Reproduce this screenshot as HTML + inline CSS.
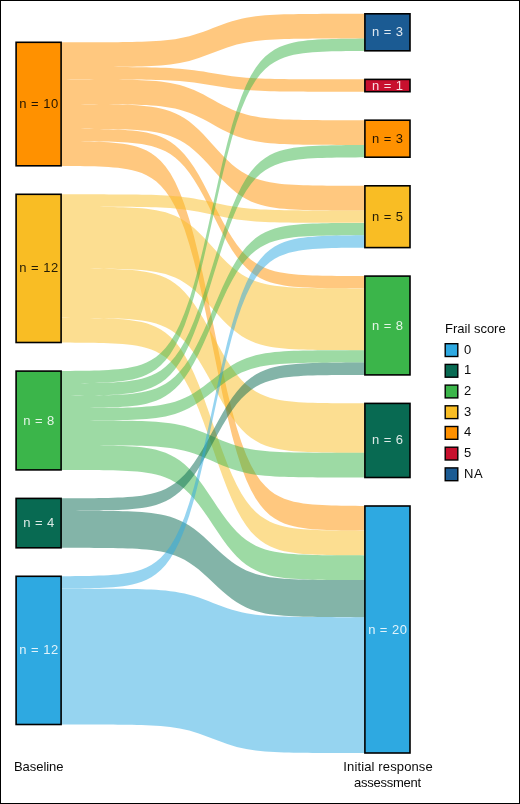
<!DOCTYPE html>
<html><head><meta charset="utf-8"><title>Frail score</title>
<style>
html,body{margin:0;padding:0;background:#fff}
body{width:520px;height:804px;overflow:hidden}
svg{display:block;will-change:transform}
text{font-family:"Liberation Sans",Arial,sans-serif;font-size:13px;word-spacing:.9px}
.n text{fill-opacity:.86}
</style></head><body>
<svg width="520" height="804" viewBox="0 0 520 804">
<rect x="0" y="0" width="520" height="804" fill="#fff"/>
<g>
<path d="M61.10,42.30 65.85,42.30 70.59,42.30 75.34,42.29 80.09,42.29 84.83,42.28 89.58,42.28 94.33,42.27 99.07,42.25 103.82,42.24 108.57,42.22 113.32,42.19 118.06,42.15 122.81,42.10 127.56,42.04 132.30,41.97 137.05,41.87 141.80,41.74 146.54,41.57 151.29,41.36 156.04,41.10 160.78,40.76 165.53,40.33 170.28,39.79 175.02,39.13 179.77,38.32 184.52,37.34 189.27,36.19 194.01,34.85 198.76,33.33 203.51,31.67 208.25,29.89 213.00,28.05 217.75,26.21 222.49,24.43 227.24,22.77 231.99,21.25 236.73,19.91 241.48,18.76 246.23,17.78 250.97,16.97 255.72,16.31 260.47,15.77 265.22,15.34 269.96,15.00 274.71,14.74 279.46,14.53 284.20,14.36 288.95,14.23 293.70,14.13 298.44,14.06 303.19,14.00 307.94,13.95 312.68,13.91 317.43,13.88 322.18,13.86 326.92,13.85 331.67,13.83 336.42,13.82 341.17,13.82 345.91,13.81 350.66,13.81 355.41,13.80 360.15,13.80 364.90,13.80 L364.90,38.50 360.15,38.50 355.41,38.50 350.66,38.51 345.91,38.51 341.17,38.52 336.42,38.52 331.67,38.53 326.92,38.55 322.18,38.56 317.43,38.58 312.68,38.61 307.94,38.65 303.19,38.70 298.44,38.76 293.70,38.83 288.95,38.93 284.20,39.06 279.46,39.23 274.71,39.44 269.96,39.70 265.22,40.04 260.47,40.47 255.72,41.01 250.97,41.67 246.23,42.48 241.48,43.46 236.73,44.61 231.99,45.95 227.24,47.47 222.49,49.13 217.75,50.91 213.00,52.75 208.25,54.59 203.51,56.37 198.76,58.03 194.01,59.55 189.27,60.89 184.52,62.04 179.77,63.02 175.02,63.83 170.28,64.49 165.53,65.03 160.78,65.46 156.04,65.80 151.29,66.06 146.54,66.27 141.80,66.44 137.05,66.57 132.30,66.67 127.56,66.74 122.81,66.80 118.06,66.85 113.32,66.89 108.57,66.92 103.82,66.94 99.07,66.95 94.33,66.97 89.58,66.98 84.83,66.98 80.09,66.99 75.34,66.99 70.59,67.00 65.85,67.00 61.10,67.00Z M61.10,67.01 65.85,67.01 70.59,67.02 75.34,67.02 80.09,67.02 84.83,67.02 89.58,67.02 94.33,67.03 99.07,67.03 103.82,67.04 108.57,67.05 113.32,67.06 118.06,67.08 122.81,67.10 127.56,67.12 132.30,67.16 137.05,67.20 141.80,67.26 146.54,67.33 151.29,67.42 156.04,67.54 160.78,67.68 165.53,67.87 170.28,68.10 175.02,68.39 179.77,68.74 184.52,69.16 189.27,69.66 194.01,70.24 198.76,70.90 203.51,71.62 208.25,72.39 213.00,73.19 217.75,73.98 222.49,74.75 227.24,75.47 231.99,76.13 236.73,76.71 241.48,77.21 246.23,77.63 250.97,77.98 255.72,78.27 260.47,78.50 265.22,78.69 269.96,78.83 274.71,78.95 279.46,79.04 284.20,79.11 288.95,79.17 293.70,79.21 298.44,79.25 303.19,79.27 307.94,79.29 312.68,79.31 317.43,79.32 322.18,79.33 326.92,79.34 331.67,79.34 336.42,79.35 341.17,79.35 345.91,79.35 350.66,79.35 355.41,79.35 360.15,79.36 364.90,79.36 L364.90,91.71 360.15,91.71 355.41,91.70 350.66,91.70 345.91,91.70 341.17,91.70 336.42,91.70 331.67,91.69 326.92,91.69 322.18,91.68 317.43,91.67 312.68,91.66 307.94,91.64 303.19,91.62 298.44,91.60 293.70,91.56 288.95,91.52 284.20,91.46 279.46,91.39 274.71,91.30 269.96,91.18 265.22,91.04 260.47,90.85 255.72,90.62 250.97,90.33 246.23,89.98 241.48,89.56 236.73,89.06 231.99,88.48 227.24,87.82 222.49,87.10 217.75,86.33 213.00,85.53 208.25,84.74 203.51,83.97 198.76,83.25 194.01,82.59 189.27,82.01 184.52,81.51 179.77,81.09 175.02,80.74 170.28,80.45 165.53,80.22 160.78,80.03 156.04,79.89 151.29,79.77 146.54,79.68 141.80,79.61 137.05,79.55 132.30,79.51 127.56,79.47 122.81,79.45 118.06,79.43 113.32,79.41 108.57,79.40 103.82,79.39 99.07,79.38 94.33,79.38 89.58,79.37 84.83,79.37 80.09,79.37 75.34,79.37 70.59,79.37 65.85,79.36 61.10,79.36Z M61.10,79.37 65.85,79.37 70.59,79.38 75.34,79.38 80.09,79.39 84.83,79.40 89.58,79.41 94.33,79.42 99.07,79.44 103.82,79.46 108.57,79.50 113.32,79.54 118.06,79.59 122.81,79.65 127.56,79.74 132.30,79.85 137.05,79.99 141.80,80.18 146.54,80.41 151.29,80.72 156.04,81.10 160.78,81.59 165.53,82.20 170.28,82.97 175.02,83.92 179.77,85.08 184.52,86.48 189.27,88.13 194.01,90.05 198.76,92.22 203.51,94.61 208.25,97.16 213.00,99.79 217.75,102.43 222.49,104.98 227.24,107.37 231.99,109.54 236.73,111.46 241.48,113.11 246.23,114.51 250.97,115.67 255.72,116.62 260.47,117.39 265.22,118.00 269.96,118.49 274.71,118.87 279.46,119.18 284.20,119.41 288.95,119.60 293.70,119.74 298.44,119.85 303.19,119.94 307.94,120.00 312.68,120.05 317.43,120.09 322.18,120.13 326.92,120.15 331.67,120.17 336.42,120.18 341.17,120.19 345.91,120.20 350.66,120.21 355.41,120.21 360.15,120.22 364.90,120.22 L364.90,144.92 360.15,144.92 355.41,144.91 350.66,144.91 345.91,144.90 341.17,144.89 336.42,144.88 331.67,144.87 326.92,144.85 322.18,144.83 317.43,144.79 312.68,144.75 307.94,144.70 303.19,144.64 298.44,144.55 293.70,144.44 288.95,144.30 284.20,144.11 279.46,143.88 274.71,143.57 269.96,143.19 265.22,142.70 260.47,142.09 255.72,141.32 250.97,140.37 246.23,139.21 241.48,137.81 236.73,136.16 231.99,134.24 227.24,132.07 222.49,129.68 217.75,127.13 213.00,124.49 208.25,121.86 203.51,119.31 198.76,116.92 194.01,114.75 189.27,112.83 184.52,111.18 179.77,109.78 175.02,108.62 170.28,107.67 165.53,106.90 160.78,106.29 156.04,105.80 151.29,105.42 146.54,105.11 141.80,104.88 137.05,104.69 132.30,104.55 127.56,104.44 122.81,104.35 118.06,104.29 113.32,104.24 108.57,104.20 103.82,104.16 99.07,104.14 94.33,104.12 89.58,104.11 84.83,104.10 80.09,104.09 75.34,104.08 70.59,104.08 65.85,104.07 61.10,104.07Z M61.10,104.08 65.85,104.09 70.59,104.09 75.34,104.10 80.09,104.12 84.83,104.13 89.58,104.16 94.33,104.18 99.07,104.22 103.82,104.27 108.57,104.33 113.32,104.41 118.06,104.51 122.81,104.65 127.56,104.82 132.30,105.04 137.05,105.33 141.80,105.70 146.54,106.17 151.29,106.77 156.04,107.54 160.78,108.52 165.53,109.74 170.28,111.28 175.02,113.18 179.77,115.50 184.52,118.30 189.27,121.61 194.01,125.45 198.76,129.79 203.51,134.56 208.25,139.66 213.00,144.93 217.75,150.20 222.49,155.30 227.24,160.07 231.99,164.41 236.73,168.25 241.48,171.56 246.23,174.36 250.97,176.68 255.72,178.58 260.47,180.12 265.22,181.34 269.96,182.32 274.71,183.09 279.46,183.69 284.20,184.16 288.95,184.53 293.70,184.82 298.44,185.04 303.19,185.21 307.94,185.35 312.68,185.45 317.43,185.53 322.18,185.59 326.92,185.64 331.67,185.68 336.42,185.70 341.17,185.73 345.91,185.74 350.66,185.76 355.41,185.77 360.15,185.77 364.90,185.78 L364.90,210.48 360.15,210.47 355.41,210.47 350.66,210.46 345.91,210.44 341.17,210.43 336.42,210.40 331.67,210.38 326.92,210.34 322.18,210.29 317.43,210.23 312.68,210.15 307.94,210.05 303.19,209.91 298.44,209.74 293.70,209.52 288.95,209.23 284.20,208.86 279.46,208.39 274.71,207.79 269.96,207.02 265.22,206.04 260.47,204.82 255.72,203.28 250.97,201.38 246.23,199.06 241.48,196.26 236.73,192.95 231.99,189.11 227.24,184.77 222.49,180.00 217.75,174.90 213.00,169.63 208.25,164.36 203.51,159.26 198.76,154.49 194.01,150.15 189.27,146.31 184.52,143.00 179.77,140.20 175.02,137.88 170.28,135.98 165.53,134.44 160.78,133.22 156.04,132.24 151.29,131.47 146.54,130.87 141.80,130.40 137.05,130.03 132.30,129.74 127.56,129.52 122.81,129.35 118.06,129.21 113.32,129.11 108.57,129.03 103.82,128.97 99.07,128.92 94.33,128.88 89.58,128.86 84.83,128.83 80.09,128.82 75.34,128.80 70.59,128.79 65.85,128.79 61.10,128.78Z M61.10,128.80 65.85,128.81 70.59,128.82 75.34,128.84 80.09,128.86 84.83,128.89 89.58,128.93 94.33,128.98 99.07,129.05 103.82,129.14 108.57,129.25 113.32,129.39 118.06,129.58 122.81,129.82 127.56,130.13 132.30,130.53 137.05,131.05 141.80,131.71 146.54,132.56 151.29,133.65 156.04,135.03 160.78,136.79 165.53,139.00 170.28,141.77 175.02,145.19 179.77,149.38 184.52,154.42 189.27,160.39 194.01,167.30 198.76,175.12 203.51,183.73 208.25,192.92 213.00,202.41 217.75,211.91 222.49,221.10 227.24,229.71 231.99,237.53 236.73,244.44 241.48,250.41 246.23,255.45 250.97,259.64 255.72,263.06 260.47,265.83 265.22,268.04 269.96,269.80 274.71,271.18 279.46,272.27 284.20,273.12 288.95,273.78 293.70,274.30 298.44,274.70 303.19,275.01 307.94,275.25 312.68,275.44 317.43,275.58 322.18,275.69 326.92,275.78 331.67,275.85 336.42,275.90 341.17,275.94 345.91,275.97 350.66,275.99 355.41,276.01 360.15,276.02 364.90,276.03 L364.90,288.38 360.15,288.37 355.41,288.36 350.66,288.34 345.91,288.32 341.17,288.29 336.42,288.25 331.67,288.20 326.92,288.13 322.18,288.04 317.43,287.93 312.68,287.79 307.94,287.60 303.19,287.36 298.44,287.05 293.70,286.65 288.95,286.13 284.20,285.47 279.46,284.62 274.71,283.53 269.96,282.15 265.22,280.39 260.47,278.18 255.72,275.41 250.97,271.99 246.23,267.80 241.48,262.76 236.73,256.79 231.99,249.88 227.24,242.06 222.49,233.45 217.75,224.26 213.00,214.76 208.25,205.27 203.51,196.08 198.76,187.47 194.01,179.65 189.27,172.74 184.52,166.77 179.77,161.73 175.02,157.54 170.28,154.12 165.53,151.35 160.78,149.14 156.04,147.38 151.29,146.00 146.54,144.91 141.80,144.06 137.05,143.40 132.30,142.88 127.56,142.48 122.81,142.17 118.06,141.93 113.32,141.74 108.57,141.60 103.82,141.49 99.07,141.40 94.33,141.33 89.58,141.28 84.83,141.24 80.09,141.21 75.34,141.19 70.59,141.17 65.85,141.16 61.10,141.15Z M61.10,141.20 65.85,141.23 70.59,141.26 75.34,141.31 80.09,141.37 84.83,141.44 89.58,141.54 94.33,141.67 99.07,141.83 103.82,142.04 108.57,142.32 113.32,142.68 118.06,143.14 122.81,143.73 127.56,144.50 132.30,145.49 137.05,146.77 141.80,148.42 146.54,150.52 151.29,153.22 156.04,156.65 160.78,161.00 165.53,166.49 170.28,173.34 175.02,181.81 179.77,192.18 184.52,204.67 189.27,219.45 194.01,236.58 198.76,255.95 203.51,277.27 208.25,300.03 213.00,323.56 217.75,347.09 222.49,369.85 227.24,391.17 231.99,410.54 236.73,427.67 241.48,442.45 246.23,454.94 250.97,465.31 255.72,473.78 260.47,480.63 265.22,486.12 269.96,490.47 274.71,493.90 279.46,496.60 284.20,498.70 288.95,500.35 293.70,501.63 298.44,502.62 303.19,503.39 307.94,503.98 312.68,504.44 317.43,504.80 322.18,505.08 326.92,505.29 331.67,505.45 336.42,505.58 341.17,505.68 345.91,505.75 350.66,505.81 355.41,505.86 360.15,505.89 364.90,505.92 L364.90,530.62 360.15,530.59 355.41,530.56 350.66,530.51 345.91,530.45 341.17,530.38 336.42,530.28 331.67,530.15 326.92,529.99 322.18,529.78 317.43,529.50 312.68,529.14 307.94,528.68 303.19,528.09 298.44,527.32 293.70,526.33 288.95,525.05 284.20,523.40 279.46,521.30 274.71,518.60 269.96,515.17 265.22,510.82 260.47,505.33 255.72,498.48 250.97,490.01 246.23,479.64 241.48,467.15 236.73,452.37 231.99,435.24 227.24,415.87 222.49,394.55 217.75,371.79 213.00,348.26 208.25,324.73 203.51,301.97 198.76,280.65 194.01,261.28 189.27,244.15 184.52,229.37 179.77,216.88 175.02,206.51 170.28,198.04 165.53,191.19 160.78,185.70 156.04,181.35 151.29,177.92 146.54,175.22 141.80,173.12 137.05,171.47 132.30,170.19 127.56,169.20 122.81,168.43 118.06,167.84 113.32,167.38 108.57,167.02 103.82,166.74 99.07,166.53 94.33,166.37 89.58,166.24 84.83,166.14 80.09,166.07 75.34,166.01 70.59,165.96 65.85,165.93 61.10,165.90Z" fill="#ff9100" fill-opacity=".5"/>
<path d="M61.10,194.33 65.85,194.34 70.59,194.34 75.34,194.34 80.09,194.34 84.83,194.34 89.58,194.35 94.33,194.35 99.07,194.36 103.82,194.37 108.57,194.38 113.32,194.40 118.06,194.42 122.81,194.45 127.56,194.48 132.30,194.52 137.05,194.58 141.80,194.65 146.54,194.75 151.29,194.87 156.04,195.02 160.78,195.21 165.53,195.45 170.28,195.76 175.02,196.13 179.77,196.59 184.52,197.15 189.27,197.80 194.01,198.56 198.76,199.42 203.51,200.36 208.25,201.37 213.00,202.41 217.75,203.46 222.49,204.47 227.24,205.41 231.99,206.27 236.73,207.03 241.48,207.68 246.23,208.24 250.97,208.70 255.72,209.07 260.47,209.38 265.22,209.62 269.96,209.81 274.71,209.96 279.46,210.08 284.20,210.18 288.95,210.25 293.70,210.31 298.44,210.35 303.19,210.38 307.94,210.41 312.68,210.43 317.43,210.45 322.18,210.46 326.92,210.47 331.67,210.48 336.42,210.48 341.17,210.49 345.91,210.49 350.66,210.49 355.41,210.49 360.15,210.49 364.90,210.50 L364.90,222.85 360.15,222.84 355.41,222.84 350.66,222.84 345.91,222.84 341.17,222.84 336.42,222.83 331.67,222.83 326.92,222.82 322.18,222.81 317.43,222.80 312.68,222.78 307.94,222.76 303.19,222.73 298.44,222.70 293.70,222.66 288.95,222.60 284.20,222.53 279.46,222.43 274.71,222.31 269.96,222.16 265.22,221.97 260.47,221.73 255.72,221.42 250.97,221.05 246.23,220.59 241.48,220.03 236.73,219.38 231.99,218.62 227.24,217.76 222.49,216.82 217.75,215.81 213.00,214.76 208.25,213.72 203.51,212.71 198.76,211.77 194.01,210.91 189.27,210.15 184.52,209.50 179.77,208.94 175.02,208.48 170.28,208.11 165.53,207.80 160.78,207.56 156.04,207.37 151.29,207.22 146.54,207.10 141.80,207.00 137.05,206.93 132.30,206.87 127.56,206.83 122.81,206.80 118.06,206.77 113.32,206.75 108.57,206.73 103.82,206.72 99.07,206.71 94.33,206.70 89.58,206.70 84.83,206.69 80.09,206.69 75.34,206.69 70.59,206.69 65.85,206.69 61.10,206.68Z M61.10,206.70 65.85,206.71 70.59,206.71 75.34,206.72 80.09,206.74 84.83,206.75 89.58,206.78 94.33,206.80 99.07,206.84 103.82,206.89 108.57,206.95 113.32,207.03 118.06,207.13 122.81,207.27 127.56,207.44 132.30,207.66 137.05,207.95 141.80,208.32 146.54,208.79 151.29,209.39 156.04,210.16 160.78,211.14 165.53,212.36 170.28,213.90 175.02,215.80 179.77,218.12 184.52,220.92 189.27,224.23 194.01,228.07 198.76,232.41 203.51,237.18 208.25,242.28 213.00,247.55 217.75,252.82 222.49,257.92 227.24,262.69 231.99,267.03 236.73,270.87 241.48,274.18 246.23,276.98 250.97,279.30 255.72,281.20 260.47,282.74 265.22,283.96 269.96,284.94 274.71,285.71 279.46,286.31 284.20,286.78 288.95,287.15 293.70,287.44 298.44,287.66 303.19,287.83 307.94,287.97 312.68,288.07 317.43,288.15 322.18,288.21 326.92,288.26 331.67,288.30 336.42,288.32 341.17,288.35 345.91,288.36 350.66,288.38 355.41,288.39 360.15,288.39 364.90,288.40 L364.90,350.15 360.15,350.14 355.41,350.14 350.66,350.13 345.91,350.11 341.17,350.10 336.42,350.07 331.67,350.05 326.92,350.01 322.18,349.96 317.43,349.90 312.68,349.82 307.94,349.72 303.19,349.58 298.44,349.41 293.70,349.19 288.95,348.90 284.20,348.53 279.46,348.06 274.71,347.46 269.96,346.69 265.22,345.71 260.47,344.49 255.72,342.95 250.97,341.05 246.23,338.73 241.48,335.93 236.73,332.62 231.99,328.78 227.24,324.44 222.49,319.67 217.75,314.57 213.00,309.30 208.25,304.03 203.51,298.93 198.76,294.16 194.01,289.82 189.27,285.98 184.52,282.67 179.77,279.87 175.02,277.55 170.28,275.65 165.53,274.11 160.78,272.89 156.04,271.91 151.29,271.14 146.54,270.54 141.80,270.07 137.05,269.70 132.30,269.41 127.56,269.19 122.81,269.02 118.06,268.88 113.32,268.78 108.57,268.70 103.82,268.64 99.07,268.59 94.33,268.55 89.58,268.53 84.83,268.50 80.09,268.49 75.34,268.47 70.59,268.46 65.85,268.46 61.10,268.45Z M61.10,268.46 65.85,268.47 70.59,268.49 75.34,268.50 80.09,268.52 84.83,268.55 89.58,268.59 94.33,268.64 99.07,268.70 103.82,268.78 108.57,268.88 113.32,269.01 118.06,269.18 122.81,269.40 127.56,269.68 132.30,270.05 137.05,270.52 141.80,271.13 146.54,271.91 151.29,272.91 156.04,274.18 160.78,275.79 165.53,277.82 170.28,280.35 175.02,283.48 179.77,287.32 184.52,291.94 189.27,297.40 194.01,303.74 198.76,310.91 203.51,318.79 208.25,327.21 213.00,335.91 217.75,344.61 222.49,353.03 227.24,360.91 231.99,368.08 236.73,374.42 241.48,379.88 246.23,384.50 250.97,388.34 255.72,391.47 260.47,394.00 265.22,396.03 269.96,397.64 274.71,398.91 279.46,399.91 284.20,400.69 288.95,401.30 293.70,401.77 298.44,402.14 303.19,402.42 307.94,402.64 312.68,402.81 317.43,402.94 322.18,403.04 326.92,403.12 331.67,403.18 336.42,403.23 341.17,403.27 345.91,403.30 350.66,403.32 355.41,403.33 360.15,403.35 364.90,403.36 L364.90,452.76 360.15,452.75 355.41,452.73 350.66,452.72 345.91,452.70 341.17,452.67 336.42,452.63 331.67,452.58 326.92,452.52 322.18,452.44 317.43,452.34 312.68,452.21 307.94,452.04 303.19,451.82 298.44,451.54 293.70,451.17 288.95,450.70 284.20,450.09 279.46,449.31 274.71,448.31 269.96,447.04 265.22,445.43 260.47,443.40 255.72,440.87 250.97,437.74 246.23,433.90 241.48,429.28 236.73,423.82 231.99,417.48 227.24,410.31 222.49,402.43 217.75,394.01 213.00,385.31 208.25,376.61 203.51,368.19 198.76,360.31 194.01,353.14 189.27,346.80 184.52,341.34 179.77,336.72 175.02,332.88 170.28,329.75 165.53,327.22 160.78,325.19 156.04,323.58 151.29,322.31 146.54,321.31 141.80,320.53 137.05,319.92 132.30,319.45 127.56,319.08 122.81,318.80 118.06,318.58 113.32,318.41 108.57,318.28 103.82,318.18 99.07,318.10 94.33,318.04 89.58,317.99 84.83,317.95 80.09,317.92 75.34,317.90 70.59,317.89 65.85,317.87 61.10,317.86Z M61.10,317.88 65.85,317.90 70.59,317.92 75.34,317.95 80.09,317.98 84.83,318.02 89.58,318.08 94.33,318.15 99.07,318.25 103.82,318.37 108.57,318.54 113.32,318.74 118.06,319.01 122.81,319.36 127.56,319.81 132.30,320.39 137.05,321.13 141.80,322.09 146.54,323.32 151.29,324.89 156.04,326.90 160.78,329.44 165.53,332.63 170.28,336.63 175.02,341.58 179.77,347.62 184.52,354.91 189.27,363.53 194.01,373.53 198.76,384.83 203.51,397.27 208.25,410.54 213.00,424.27 217.75,438.00 222.49,451.27 227.24,463.71 231.99,475.01 236.73,485.01 241.48,493.63 246.23,500.92 250.97,506.96 255.72,511.91 260.47,515.91 265.22,519.10 269.96,521.64 274.71,523.65 279.46,525.22 284.20,526.45 288.95,527.41 293.70,528.15 298.44,528.73 303.19,529.18 307.94,529.53 312.68,529.80 317.43,530.00 322.18,530.17 326.92,530.29 331.67,530.39 336.42,530.46 341.17,530.52 345.91,530.56 350.66,530.59 355.41,530.62 360.15,530.64 364.90,530.66 L364.90,555.36 360.15,555.34 355.41,555.32 350.66,555.29 345.91,555.26 341.17,555.22 336.42,555.16 331.67,555.09 326.92,554.99 322.18,554.87 317.43,554.70 312.68,554.50 307.94,554.23 303.19,553.88 298.44,553.43 293.70,552.85 288.95,552.11 284.20,551.15 279.46,549.92 274.71,548.35 269.96,546.34 265.22,543.80 260.47,540.61 255.72,536.61 250.97,531.66 246.23,525.62 241.48,518.33 236.73,509.71 231.99,499.71 227.24,488.41 222.49,475.97 217.75,462.70 213.00,448.97 208.25,435.24 203.51,421.97 198.76,409.53 194.01,398.23 189.27,388.23 184.52,379.61 179.77,372.32 175.02,366.28 170.28,361.33 165.53,357.33 160.78,354.14 156.04,351.60 151.29,349.59 146.54,348.02 141.80,346.79 137.05,345.83 132.30,345.09 127.56,344.51 122.81,344.06 118.06,343.71 113.32,343.44 108.57,343.24 103.82,343.07 99.07,342.95 94.33,342.85 89.58,342.78 84.83,342.72 80.09,342.68 75.34,342.65 70.59,342.62 65.85,342.60 61.10,342.58Z" fill="#f9bd24" fill-opacity=".5"/>
<path d="M61.10,370.97 65.85,370.94 70.59,370.91 75.34,370.87 80.09,370.82 84.83,370.75 89.58,370.66 94.33,370.54 99.07,370.39 103.82,370.20 108.57,369.95 113.32,369.62 118.06,369.20 122.81,368.66 127.56,367.96 132.30,367.05 137.05,365.89 141.80,364.39 146.54,362.47 151.29,360.01 156.04,356.88 160.78,352.92 165.53,347.92 170.28,341.68 175.02,333.95 179.77,324.51 184.52,313.12 189.27,299.65 194.01,284.04 198.76,266.39 203.51,246.96 208.25,226.21 213.00,204.77 217.75,183.33 222.49,162.58 227.24,143.15 231.99,125.50 236.73,109.89 241.48,96.42 246.23,85.03 250.97,75.59 255.72,67.86 260.47,61.62 265.22,56.62 269.96,52.66 274.71,49.53 279.46,47.07 284.20,45.15 288.95,43.65 293.70,42.49 298.44,41.58 303.19,40.88 307.94,40.34 312.68,39.92 317.43,39.59 322.18,39.34 326.92,39.15 331.67,39.00 336.42,38.88 341.17,38.79 345.91,38.72 350.66,38.67 355.41,38.63 360.15,38.60 364.90,38.57 L364.90,50.92 360.15,50.95 355.41,50.98 350.66,51.02 345.91,51.07 341.17,51.14 336.42,51.23 331.67,51.35 326.92,51.50 322.18,51.69 317.43,51.94 312.68,52.27 307.94,52.69 303.19,53.23 298.44,53.93 293.70,54.84 288.95,56.00 284.20,57.50 279.46,59.42 274.71,61.88 269.96,65.01 265.22,68.97 260.47,73.97 255.72,80.21 250.97,87.94 246.23,97.38 241.48,108.77 236.73,122.24 231.99,137.85 227.24,155.50 222.49,174.93 217.75,195.68 213.00,217.12 208.25,238.56 203.51,259.31 198.76,278.74 194.01,296.39 189.27,312.00 184.52,325.47 179.77,336.86 175.02,346.30 170.28,354.03 165.53,360.27 160.78,365.27 156.04,369.23 151.29,372.36 146.54,374.82 141.80,376.74 137.05,378.24 132.30,379.40 127.56,380.31 122.81,381.01 118.06,381.55 113.32,381.97 108.57,382.30 103.82,382.55 99.07,382.74 94.33,382.89 89.58,383.01 84.83,383.10 80.09,383.17 75.34,383.22 70.59,383.26 65.85,383.29 61.10,383.32Z M61.10,383.34 65.85,383.32 70.59,383.30 75.34,383.27 80.09,383.23 84.83,383.18 89.58,383.12 94.33,383.04 99.07,382.93 103.82,382.79 108.57,382.61 113.32,382.38 118.06,382.08 122.81,381.69 127.56,381.18 132.30,380.53 137.05,379.70 141.80,378.63 146.54,377.25 151.29,375.49 156.04,373.24 160.78,370.40 165.53,366.82 170.28,362.34 175.02,356.80 179.77,350.02 184.52,341.86 189.27,332.20 194.01,321.01 198.76,308.35 203.51,294.42 208.25,279.54 213.00,264.17 217.75,248.79 222.49,233.91 227.24,219.98 231.99,207.32 236.73,196.13 241.48,186.47 246.23,178.31 250.97,171.53 255.72,165.99 260.47,161.51 265.22,157.93 269.96,155.09 274.71,152.84 279.46,151.08 284.20,149.70 288.95,148.63 293.70,147.80 298.44,147.15 303.19,146.64 307.94,146.25 312.68,145.95 317.43,145.72 322.18,145.54 326.92,145.40 331.67,145.29 336.42,145.21 341.17,145.15 345.91,145.10 350.66,145.06 355.41,145.03 360.15,145.01 364.90,144.99 L364.90,157.34 360.15,157.36 355.41,157.38 350.66,157.41 345.91,157.45 341.17,157.50 336.42,157.56 331.67,157.64 326.92,157.75 322.18,157.89 317.43,158.07 312.68,158.30 307.94,158.60 303.19,158.99 298.44,159.50 293.70,160.15 288.95,160.98 284.20,162.05 279.46,163.43 274.71,165.19 269.96,167.44 265.22,170.28 260.47,173.86 255.72,178.34 250.97,183.88 246.23,190.66 241.48,198.82 236.73,208.48 231.99,219.67 227.24,232.33 222.49,246.26 217.75,261.14 213.00,276.52 208.25,291.89 203.51,306.77 198.76,320.70 194.01,333.36 189.27,344.55 184.52,354.21 179.77,362.37 175.02,369.15 170.28,374.69 165.53,379.17 160.78,382.75 156.04,385.59 151.29,387.84 146.54,389.60 141.80,390.98 137.05,392.05 132.30,392.88 127.56,393.53 122.81,394.04 118.06,394.43 113.32,394.73 108.57,394.96 103.82,395.14 99.07,395.28 94.33,395.39 89.58,395.47 84.83,395.53 80.09,395.58 75.34,395.62 70.59,395.65 65.85,395.67 61.10,395.69Z M61.10,395.71 65.85,395.69 70.59,395.68 75.34,395.66 80.09,395.63 84.83,395.59 89.58,395.55 94.33,395.49 99.07,395.41 103.82,395.31 108.57,395.18 113.32,395.01 118.06,394.79 122.81,394.51 127.56,394.14 132.30,393.67 137.05,393.07 141.80,392.29 146.54,391.29 151.29,390.01 156.04,388.39 160.78,386.32 165.53,383.73 170.28,380.48 175.02,376.46 179.77,371.55 184.52,365.63 189.27,358.63 194.01,350.51 198.76,341.33 203.51,331.23 208.25,320.45 213.00,309.30 217.75,298.15 222.49,287.37 227.24,277.27 231.99,268.09 236.73,259.97 241.48,252.97 246.23,247.05 250.97,242.14 255.72,238.12 260.47,234.87 265.22,232.28 269.96,230.21 274.71,228.59 279.46,227.31 284.20,226.31 288.95,225.53 293.70,224.93 298.44,224.46 303.19,224.09 307.94,223.81 312.68,223.59 317.43,223.42 322.18,223.29 326.92,223.19 331.67,223.11 336.42,223.05 341.17,223.01 345.91,222.97 350.66,222.94 355.41,222.92 360.15,222.91 364.90,222.89 L364.90,235.24 360.15,235.26 355.41,235.27 350.66,235.29 345.91,235.32 341.17,235.36 336.42,235.40 331.67,235.46 326.92,235.54 322.18,235.64 317.43,235.77 312.68,235.94 307.94,236.16 303.19,236.44 298.44,236.81 293.70,237.28 288.95,237.88 284.20,238.66 279.46,239.66 274.71,240.94 269.96,242.56 265.22,244.63 260.47,247.22 255.72,250.47 250.97,254.49 246.23,259.40 241.48,265.32 236.73,272.32 231.99,280.44 227.24,289.62 222.49,299.72 217.75,310.50 213.00,321.65 208.25,332.80 203.51,343.58 198.76,353.68 194.01,362.86 189.27,370.98 184.52,377.98 179.77,383.90 175.02,388.81 170.28,392.83 165.53,396.08 160.78,398.67 156.04,400.74 151.29,402.36 146.54,403.64 141.80,404.64 137.05,405.42 132.30,406.02 127.56,406.49 122.81,406.86 118.06,407.14 113.32,407.36 108.57,407.53 103.82,407.66 99.07,407.76 94.33,407.84 89.58,407.90 84.83,407.94 80.09,407.98 75.34,408.01 70.59,408.03 65.85,408.04 61.10,408.06Z M61.10,408.09 65.85,408.08 70.59,408.08 75.34,408.07 80.09,408.06 84.83,408.05 89.58,408.03 94.33,408.01 99.07,407.99 103.82,407.95 108.57,407.91 113.32,407.85 118.06,407.78 122.81,407.68 127.56,407.56 132.30,407.40 137.05,407.20 141.80,406.94 146.54,406.61 151.29,406.18 156.04,405.63 160.78,404.94 165.53,404.07 170.28,402.98 175.02,401.64 179.77,399.99 184.52,398.01 189.27,395.66 194.01,392.94 198.76,389.87 203.51,386.48 208.25,382.87 213.00,379.14 217.75,375.40 222.49,371.79 227.24,368.40 231.99,365.33 236.73,362.61 241.48,360.26 246.23,358.28 250.97,356.63 255.72,355.29 260.47,354.20 265.22,353.33 269.96,352.64 274.71,352.09 279.46,351.66 284.20,351.33 288.95,351.07 293.70,350.87 298.44,350.71 303.19,350.59 307.94,350.49 312.68,350.42 317.43,350.36 322.18,350.32 326.92,350.28 331.67,350.26 336.42,350.24 341.17,350.22 345.91,350.21 350.66,350.20 355.41,350.19 360.15,350.19 364.90,350.18 L364.90,362.53 360.15,362.54 355.41,362.54 350.66,362.55 345.91,362.56 341.17,362.57 336.42,362.59 331.67,362.61 326.92,362.63 322.18,362.67 317.43,362.71 312.68,362.77 307.94,362.84 303.19,362.94 298.44,363.06 293.70,363.22 288.95,363.42 284.20,363.68 279.46,364.01 274.71,364.44 269.96,364.99 265.22,365.68 260.47,366.55 255.72,367.64 250.97,368.98 246.23,370.63 241.48,372.61 236.73,374.96 231.99,377.68 227.24,380.75 222.49,384.14 217.75,387.75 213.00,391.49 208.25,395.22 203.51,398.83 198.76,402.22 194.01,405.29 189.27,408.01 184.52,410.36 179.77,412.34 175.02,413.99 170.28,415.33 165.53,416.42 160.78,417.29 156.04,417.98 151.29,418.53 146.54,418.96 141.80,419.29 137.05,419.55 132.30,419.75 127.56,419.91 122.81,420.03 118.06,420.13 113.32,420.20 108.57,420.26 103.82,420.30 99.07,420.34 94.33,420.36 89.58,420.38 84.83,420.40 80.09,420.41 75.34,420.42 70.59,420.43 65.85,420.43 61.10,420.44Z M61.10,420.46 65.85,420.46 70.59,420.46 75.34,420.47 80.09,420.47 84.83,420.48 89.58,420.49 94.33,420.50 99.07,420.51 103.82,420.53 108.57,420.56 113.32,420.59 118.06,420.63 122.81,420.68 127.56,420.75 132.30,420.84 137.05,420.95 141.80,421.10 146.54,421.28 151.29,421.52 156.04,421.83 160.78,422.21 165.53,422.70 170.28,423.31 175.02,424.06 179.77,424.98 184.52,426.08 189.27,427.39 194.01,428.91 198.76,430.63 203.51,432.52 208.25,434.53 213.00,436.62 217.75,438.71 222.49,440.72 227.24,442.61 231.99,444.33 236.73,445.85 241.48,447.16 246.23,448.26 250.97,449.18 255.72,449.93 260.47,450.54 265.22,451.03 269.96,451.41 274.71,451.72 279.46,451.96 284.20,452.14 288.95,452.29 293.70,452.40 298.44,452.49 303.19,452.56 307.94,452.61 312.68,452.65 317.43,452.68 322.18,452.71 326.92,452.73 331.67,452.74 336.42,452.75 341.17,452.76 345.91,452.77 350.66,452.77 355.41,452.78 360.15,452.78 364.90,452.78 L364.90,477.48 360.15,477.48 355.41,477.48 350.66,477.47 345.91,477.47 341.17,477.46 336.42,477.45 331.67,477.44 326.92,477.43 322.18,477.41 317.43,477.38 312.68,477.35 307.94,477.31 303.19,477.26 298.44,477.19 293.70,477.10 288.95,476.99 284.20,476.84 279.46,476.66 274.71,476.42 269.96,476.11 265.22,475.73 260.47,475.24 255.72,474.63 250.97,473.88 246.23,472.96 241.48,471.86 236.73,470.55 231.99,469.03 227.24,467.31 222.49,465.42 217.75,463.41 213.00,461.32 208.25,459.23 203.51,457.22 198.76,455.33 194.01,453.61 189.27,452.09 184.52,450.78 179.77,449.68 175.02,448.76 170.28,448.01 165.53,447.40 160.78,446.91 156.04,446.53 151.29,446.22 146.54,445.98 141.80,445.80 137.05,445.65 132.30,445.54 127.56,445.45 122.81,445.38 118.06,445.33 113.32,445.29 108.57,445.26 103.82,445.23 99.07,445.21 94.33,445.20 89.58,445.19 84.83,445.18 80.09,445.17 75.34,445.17 70.59,445.16 65.85,445.16 61.10,445.16Z M61.10,445.18 65.85,445.19 70.59,445.20 75.34,445.21 80.09,445.23 84.83,445.25 89.58,445.28 94.33,445.32 99.07,445.37 103.82,445.43 108.57,445.52 113.32,445.62 118.06,445.76 122.81,445.94 127.56,446.18 132.30,446.47 137.05,446.86 141.80,447.36 146.54,447.99 151.29,448.81 156.04,449.85 160.78,451.16 165.53,452.82 170.28,454.89 175.02,457.45 179.77,460.58 184.52,464.36 189.27,468.82 194.01,474.00 198.76,479.85 203.51,486.29 208.25,493.17 213.00,500.28 217.75,507.39 222.49,514.27 227.24,520.71 231.99,526.56 236.73,531.74 241.48,536.20 246.23,539.98 250.97,543.11 255.72,545.67 260.47,547.74 265.22,549.40 269.96,550.71 274.71,551.75 279.46,552.57 284.20,553.20 288.95,553.70 293.70,554.09 298.44,554.38 303.19,554.62 307.94,554.80 312.68,554.94 317.43,555.04 322.18,555.13 326.92,555.19 331.67,555.24 336.42,555.28 341.17,555.31 345.91,555.33 350.66,555.35 355.41,555.36 360.15,555.37 364.90,555.38 L364.90,580.08 360.15,580.07 355.41,580.06 350.66,580.05 345.91,580.03 341.17,580.01 336.42,579.98 331.67,579.94 326.92,579.89 322.18,579.83 317.43,579.74 312.68,579.64 307.94,579.50 303.19,579.32 298.44,579.08 293.70,578.79 288.95,578.40 284.20,577.90 279.46,577.27 274.71,576.45 269.96,575.41 265.22,574.10 260.47,572.44 255.72,570.37 250.97,567.81 246.23,564.68 241.48,560.90 236.73,556.44 231.99,551.26 227.24,545.41 222.49,538.97 217.75,532.09 213.00,524.98 208.25,517.87 203.51,510.99 198.76,504.55 194.01,498.70 189.27,493.52 184.52,489.06 179.77,485.28 175.02,482.15 170.28,479.59 165.53,477.52 160.78,475.86 156.04,474.55 151.29,473.51 146.54,472.69 141.80,472.06 137.05,471.56 132.30,471.17 127.56,470.88 122.81,470.64 118.06,470.46 113.32,470.32 108.57,470.22 103.82,470.13 99.07,470.07 94.33,470.02 89.58,469.98 84.83,469.95 80.09,469.93 75.34,469.91 70.59,469.90 65.85,469.89 61.10,469.88Z" fill="#3bb54a" fill-opacity=".5"/>
<path d="M61.10,498.34 65.85,498.33 70.59,498.31 75.34,498.30 80.09,498.27 84.83,498.25 89.58,498.21 94.33,498.16 99.07,498.10 103.82,498.02 108.57,497.92 113.32,497.79 118.06,497.62 122.81,497.39 127.56,497.11 132.30,496.74 137.05,496.26 141.80,495.65 146.54,494.87 151.29,493.86 156.04,492.58 160.78,490.96 165.53,488.92 170.28,486.37 175.02,483.22 179.77,479.36 184.52,474.71 189.27,469.20 194.01,462.83 198.76,455.61 203.51,447.68 208.25,439.20 213.00,430.45 217.75,421.69 222.49,413.21 227.24,405.28 231.99,398.06 236.73,391.69 241.48,386.18 246.23,381.53 250.97,377.67 255.72,374.52 260.47,371.97 265.22,369.93 269.96,368.31 274.71,367.03 279.46,366.02 284.20,365.24 288.95,364.63 293.70,364.15 298.44,363.78 303.19,363.50 307.94,363.27 312.68,363.10 317.43,362.97 322.18,362.87 326.92,362.79 331.67,362.73 336.42,362.68 341.17,362.64 345.91,362.62 350.66,362.59 355.41,362.58 360.15,362.56 364.90,362.55 L364.90,374.90 360.15,374.91 355.41,374.93 350.66,374.94 345.91,374.97 341.17,374.99 336.42,375.03 331.67,375.08 326.92,375.14 322.18,375.22 317.43,375.32 312.68,375.45 307.94,375.62 303.19,375.85 298.44,376.13 293.70,376.50 288.95,376.98 284.20,377.59 279.46,378.37 274.71,379.38 269.96,380.66 265.22,382.28 260.47,384.32 255.72,386.87 250.97,390.02 246.23,393.88 241.48,398.53 236.73,404.04 231.99,410.41 227.24,417.63 222.49,425.56 217.75,434.04 213.00,442.80 208.25,451.55 203.51,460.03 198.76,467.96 194.01,475.18 189.27,481.55 184.52,487.06 179.77,491.71 175.02,495.57 170.28,498.72 165.53,501.27 160.78,503.31 156.04,504.93 151.29,506.21 146.54,507.22 141.80,508.00 137.05,508.61 132.30,509.09 127.56,509.46 122.81,509.74 118.06,509.97 113.32,510.14 108.57,510.27 103.82,510.37 99.07,510.45 94.33,510.51 89.58,510.56 84.83,510.60 80.09,510.62 75.34,510.65 70.59,510.66 65.85,510.68 61.10,510.69Z M61.10,510.74 65.85,510.74 70.59,510.75 75.34,510.76 80.09,510.77 84.83,510.78 89.58,510.80 94.33,510.83 99.07,510.86 103.82,510.90 108.57,510.95 113.32,511.02 118.06,511.11 122.81,511.22 127.56,511.37 132.30,511.55 137.05,511.80 141.80,512.11 146.54,512.51 151.29,513.02 156.04,513.68 160.78,514.50 165.53,515.55 170.28,516.85 175.02,518.46 179.77,520.43 184.52,522.81 189.27,525.62 194.01,528.87 198.76,532.56 203.51,536.61 208.25,540.94 213.00,545.42 217.75,549.89 222.49,554.22 227.24,558.27 231.99,561.96 236.73,565.21 241.48,568.02 246.23,570.40 250.97,572.37 255.72,573.98 260.47,575.28 265.22,576.33 269.96,577.15 274.71,577.81 279.46,578.32 284.20,578.72 288.95,579.03 293.70,579.28 298.44,579.46 303.19,579.61 307.94,579.72 312.68,579.81 317.43,579.88 322.18,579.93 326.92,579.97 331.67,580.00 336.42,580.03 341.17,580.05 345.91,580.06 350.66,580.07 355.41,580.08 360.15,580.09 364.90,580.09 L364.90,617.14 360.15,617.14 355.41,617.13 350.66,617.12 345.91,617.11 341.17,617.10 336.42,617.08 331.67,617.05 326.92,617.02 322.18,616.98 317.43,616.93 312.68,616.86 307.94,616.77 303.19,616.66 298.44,616.51 293.70,616.33 288.95,616.08 284.20,615.77 279.46,615.37 274.71,614.86 269.96,614.20 265.22,613.38 260.47,612.33 255.72,611.03 250.97,609.42 246.23,607.45 241.48,605.07 236.73,602.26 231.99,599.01 227.24,595.32 222.49,591.27 217.75,586.94 213.00,582.47 208.25,577.99 203.51,573.66 198.76,569.61 194.01,565.92 189.27,562.67 184.52,559.86 179.77,557.48 175.02,555.51 170.28,553.90 165.53,552.60 160.78,551.55 156.04,550.73 151.29,550.07 146.54,549.56 141.80,549.16 137.05,548.85 132.30,548.60 127.56,548.42 122.81,548.27 118.06,548.16 113.32,548.07 108.57,548.00 103.82,547.95 99.07,547.91 94.33,547.88 89.58,547.85 84.83,547.83 80.09,547.82 75.34,547.81 70.59,547.80 65.85,547.79 61.10,547.79Z" fill="#086a52" fill-opacity=".5"/>
<path d="M61.10,576.21 65.85,576.18 70.59,576.15 75.34,576.11 80.09,576.05 84.83,575.98 89.58,575.89 94.33,575.77 99.07,575.62 103.82,575.42 108.57,575.16 113.32,574.83 118.06,574.40 122.81,573.84 127.56,573.12 132.30,572.19 137.05,571.00 141.80,569.46 146.54,567.49 151.29,564.97 156.04,561.76 160.78,557.69 165.53,552.57 170.28,546.17 175.02,538.24 179.77,528.55 184.52,516.88 189.27,503.06 194.01,487.05 198.76,468.94 203.51,449.01 208.25,427.74 213.00,405.74 217.75,383.75 222.49,362.48 227.24,342.55 231.99,324.44 236.73,308.43 241.48,294.61 246.23,282.94 250.97,273.25 255.72,265.32 260.47,258.92 265.22,253.80 269.96,249.73 274.71,246.52 279.46,244.00 284.20,242.03 288.95,240.49 293.70,239.30 298.44,238.37 303.19,237.65 307.94,237.09 312.68,236.66 317.43,236.33 322.18,236.07 326.92,235.87 331.67,235.72 336.42,235.60 341.17,235.51 345.91,235.44 350.66,235.38 355.41,235.34 360.15,235.31 364.90,235.28 L364.90,247.63 360.15,247.66 355.41,247.69 350.66,247.73 345.91,247.79 341.17,247.86 336.42,247.95 331.67,248.07 326.92,248.22 322.18,248.42 317.43,248.68 312.68,249.01 307.94,249.44 303.19,250.00 298.44,250.72 293.70,251.65 288.95,252.84 284.20,254.38 279.46,256.35 274.71,258.87 269.96,262.08 265.22,266.15 260.47,271.27 255.72,277.67 250.97,285.60 246.23,295.29 241.48,306.96 236.73,320.78 231.99,336.79 227.24,354.90 222.49,374.83 217.75,396.10 213.00,418.09 208.25,440.09 203.51,461.36 198.76,481.29 194.01,499.40 189.27,515.41 184.52,529.23 179.77,540.90 175.02,550.59 170.28,558.52 165.53,564.92 160.78,570.04 156.04,574.11 151.29,577.32 146.54,579.84 141.80,581.81 137.05,583.35 132.30,584.54 127.56,585.47 122.81,586.19 118.06,586.75 113.32,587.18 108.57,587.51 103.82,587.77 99.07,587.97 94.33,588.12 89.58,588.24 84.83,588.33 80.09,588.40 75.34,588.46 70.59,588.50 65.85,588.53 61.10,588.56Z M61.10,588.65 65.85,588.65 70.59,588.65 75.34,588.66 80.09,588.66 84.83,588.67 89.58,588.67 94.33,588.68 99.07,588.70 103.82,588.71 108.57,588.73 113.32,588.76 118.06,588.80 122.81,588.85 127.56,588.91 132.30,588.98 137.05,589.08 141.80,589.21 146.54,589.38 151.29,589.59 156.04,589.85 160.78,590.19 165.53,590.62 170.28,591.16 175.02,591.82 179.77,592.63 184.52,593.61 189.27,594.76 194.01,596.10 198.76,597.62 203.51,599.28 208.25,601.06 213.00,602.90 217.75,604.74 222.49,606.52 227.24,608.18 231.99,609.70 236.73,611.04 241.48,612.19 246.23,613.17 250.97,613.98 255.72,614.64 260.47,615.18 265.22,615.61 269.96,615.95 274.71,616.21 279.46,616.42 284.20,616.59 288.95,616.72 293.70,616.82 298.44,616.89 303.19,616.95 307.94,617.00 312.68,617.04 317.43,617.07 322.18,617.09 326.92,617.10 331.67,617.12 336.42,617.13 341.17,617.13 345.91,617.14 350.66,617.14 355.41,617.15 360.15,617.15 364.90,617.15 L364.90,753.00 360.15,753.00 355.41,753.00 350.66,752.99 345.91,752.99 341.17,752.98 336.42,752.98 331.67,752.97 326.92,752.95 322.18,752.94 317.43,752.92 312.68,752.89 307.94,752.85 303.19,752.80 298.44,752.74 293.70,752.67 288.95,752.57 284.20,752.44 279.46,752.27 274.71,752.06 269.96,751.80 265.22,751.46 260.47,751.03 255.72,750.49 250.97,749.83 246.23,749.02 241.48,748.04 236.73,746.89 231.99,745.55 227.24,744.03 222.49,742.37 217.75,740.59 213.00,738.75 208.25,736.91 203.51,735.13 198.76,733.47 194.01,731.95 189.27,730.61 184.52,729.46 179.77,728.48 175.02,727.67 170.28,727.01 165.53,726.47 160.78,726.04 156.04,725.70 151.29,725.44 146.54,725.23 141.80,725.06 137.05,724.93 132.30,724.83 127.56,724.76 122.81,724.70 118.06,724.65 113.32,724.61 108.57,724.58 103.82,724.56 99.07,724.55 94.33,724.53 89.58,724.52 84.83,724.52 80.09,724.51 75.34,724.51 70.59,724.50 65.85,724.50 61.10,724.50Z" fill="#2ea9e1" fill-opacity=".5"/>
</g>
<g class="n">
<rect x="16.1" y="42.3" width="45.0" height="123.5" fill="#ff9100" stroke="#000" stroke-width="1.6"/>
<text x="39.0" y="108.1" text-anchor="middle" fill="#000">n = <tspan letter-spacing=".5">10</tspan></text>
<rect x="16.1" y="194.3" width="45.0" height="148.2" fill="#f9bd24" stroke="#000" stroke-width="1.6"/>
<text x="39.0" y="272.4" text-anchor="middle" fill="#000">n = <tspan letter-spacing=".5">12</tspan></text>
<rect x="16.1" y="371.1" width="45.0" height="98.8" fill="#3bb54a" stroke="#000" stroke-width="1.6"/>
<text x="39.0" y="424.5" text-anchor="middle" fill="#fff">n = <tspan letter-spacing=".5">8</tspan></text>
<rect x="16.1" y="498.4" width="45.0" height="49.4" fill="#086a52" stroke="#000" stroke-width="1.6"/>
<text x="39.0" y="527.1" text-anchor="middle" fill="#fff">n = <tspan letter-spacing=".5">4</tspan></text>
<rect x="16.1" y="576.3" width="45.0" height="148.2" fill="#2ea9e1" stroke="#000" stroke-width="1.6"/>
<text x="39.0" y="654.4" text-anchor="middle" fill="#fff">n = <tspan letter-spacing=".5">12</tspan></text>
<rect x="364.9" y="13.8" width="45.1" height="37.0" fill="#1b5b93" stroke="#000" stroke-width="1.6"/>
<text x="387.8" y="36.3" text-anchor="middle" fill="#fff">n = <tspan letter-spacing=".5">3</tspan></text>
<rect x="364.9" y="79.4" width="45.1" height="12.3" fill="#c8102e" stroke="#000" stroke-width="1.6"/>
<text x="387.8" y="89.5" text-anchor="middle" fill="#fff">n = <tspan letter-spacing=".5">1</tspan></text>
<rect x="364.9" y="120.2" width="45.1" height="37.0" fill="#ff9100" stroke="#000" stroke-width="1.6"/>
<text x="387.8" y="142.8" text-anchor="middle" fill="#000">n = <tspan letter-spacing=".5">3</tspan></text>
<rect x="364.9" y="185.8" width="45.1" height="61.8" fill="#f9bd24" stroke="#000" stroke-width="1.6"/>
<text x="387.8" y="220.7" text-anchor="middle" fill="#000">n = <tspan letter-spacing=".5">5</tspan></text>
<rect x="364.9" y="276.1" width="45.1" height="98.8" fill="#3bb54a" stroke="#000" stroke-width="1.6"/>
<text x="387.8" y="329.5" text-anchor="middle" fill="#fff">n = <tspan letter-spacing=".5">8</tspan></text>
<rect x="364.9" y="403.4" width="45.1" height="74.1" fill="#086a52" stroke="#000" stroke-width="1.6"/>
<text x="387.8" y="444.4" text-anchor="middle" fill="#fff">n = <tspan letter-spacing=".5">6</tspan></text>
<rect x="364.9" y="506.0" width="45.1" height="247.0" fill="#2ea9e1" stroke="#000" stroke-width="1.6"/>
<text x="387.8" y="633.5" text-anchor="middle" fill="#fff">n = <tspan letter-spacing=".5">20</tspan></text>
</g>
<g>
<text x="445" y="332.8" fill="#0a0a0a" style="word-spacing:0">Frail score</text>
<rect x="445.2" y="343.7" width="12.6" height="12.8" fill="#2ea9e1" stroke="#000" stroke-width="1.4"/>
<text x="464" y="353.6" fill="#0a0a0a">0</text>
<rect x="445.2" y="364.4" width="12.6" height="12.8" fill="#086a52" stroke="#000" stroke-width="1.4"/>
<text x="464" y="374.3" fill="#0a0a0a">1</text>
<rect x="445.2" y="385.1" width="12.6" height="12.8" fill="#3bb54a" stroke="#000" stroke-width="1.4"/>
<text x="464" y="395.0" fill="#0a0a0a">2</text>
<rect x="445.2" y="405.8" width="12.6" height="12.8" fill="#f9bd24" stroke="#000" stroke-width="1.4"/>
<text x="464" y="415.7" fill="#0a0a0a">3</text>
<rect x="445.2" y="426.5" width="12.6" height="12.8" fill="#ff9100" stroke="#000" stroke-width="1.4"/>
<text x="464" y="436.4" fill="#0a0a0a">4</text>
<rect x="445.2" y="447.2" width="12.6" height="12.8" fill="#c8102e" stroke="#000" stroke-width="1.4"/>
<text x="464" y="457.1" fill="#0a0a0a">5</text>
<rect x="445.2" y="467.9" width="12.6" height="12.8" fill="#1b5b93" stroke="#000" stroke-width="1.4"/>
<text x="464" y="477.8" fill="#0a0a0a" style="letter-spacing:.6px">NA</text>
</g>
<g>
<text x="14" y="770.5" fill="#0a0a0a" style="letter-spacing:-.05px">Baseline</text>
<text x="388.1" y="771" text-anchor="middle" fill="#0a0a0a" style="word-spacing:0;letter-spacing:.13px">Initial response</text>
<text x="387.4" y="786.5" text-anchor="middle" fill="#0a0a0a" style="letter-spacing:-.25px">assessment</text>
</g>
<rect x="0.5" y="0.5" width="519" height="803" fill="none" stroke="#000" stroke-width="1"/>
</svg>
</body></html>
